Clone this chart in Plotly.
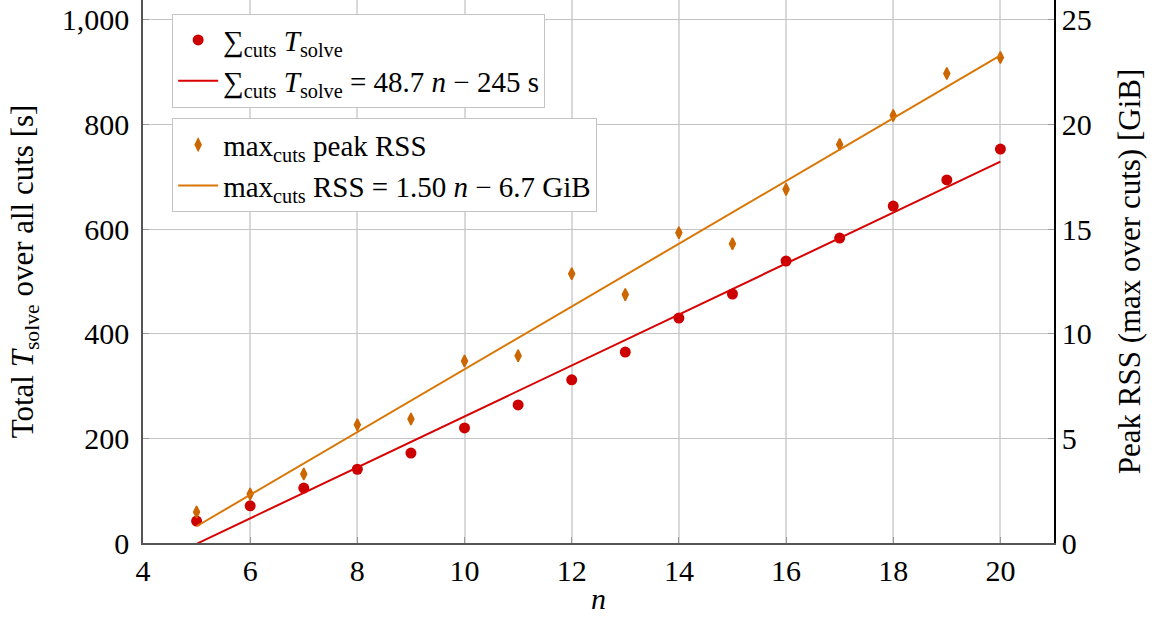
import plotly.graph_objects as go

n_vals = [5, 6, 7, 8, 9, 10, 11, 12, 13, 14, 15, 16, 17, 18, 19, 20]
t_solve = [42, 71, 105, 141, 172, 220, 264, 312, 365, 430, 476, 539, 583, 644, 694, 753]
rss_gib = [1.48, 2.34, 3.3, 5.65, 5.93, 8.7, 8.95, 12.87, 11.87, 14.83, 14.3, 16.9, 19.04, 20.43, 22.44, 23.2]

fit_n = [5, 20]
fit_t = [-1.5, 729]
fit_rss = [0.8, 23.3]

x_ticks = [4, 6, 8, 10, 12, 14, 16, 18, 20]
y_ticks = [0, 200, 400, 600, 800, 1000]
y_ticklabels = ["0", "200", "400", "600", "800", "1,000"]
y2_ticks = [0, 5, 10, 15, 20, 25]

RED = "#cc0000"
RED_LINE = "#d90000"
ORANGE = "#cc6600"
ORANGE_LINE = "#d97706"
FONT = "'Liberation Serif', 'DejaVu Serif', serif"
FS = 30

fig = go.Figure()

fig.add_trace(go.Scatter(
    x=n_vals, y=t_solve, mode="markers",
    marker=dict(symbol="circle", size=11, color=RED),
    name="∑<sub>cuts</sub> <i>T</i><sub>solve</sub>",
    legend="legend", yaxis="y"))
fig.add_trace(go.Scatter(
    x=fit_n, y=fit_t, mode="lines",
    line=dict(color=RED_LINE, width=2),
    name="∑<sub>cuts</sub> <i>T</i><sub>solve</sub> = 48.7 <i>n</i> − 245 s",
    legend="legend", yaxis="y"))
fig.add_trace(go.Scatter(
    x=n_vals, y=rss_gib, mode="markers",
    marker=dict(symbol="diamond-tall", size=8.5, color=ORANGE,
                line=dict(color=ORANGE, width=1.5)),
    name="max<sub>cuts</sub> peak RSS",
    legend="legend2", yaxis="y2"))
fig.add_trace(go.Scatter(
    x=fit_n, y=fit_rss, mode="lines",
    line=dict(color=ORANGE_LINE, width=2),
    name="max<sub>cuts</sub> RSS = 1.50 <i>n</i> − 6.7 GiB",
    legend="legend2", yaxis="y2"))

legend_common = dict(
    bgcolor="white", bordercolor="#c4c4c4", borderwidth=1,
    font=dict(family=FONT, size=29, color="black"),
    xanchor="left", yanchor="top", itemwidth=40, tracegroupgap=0,
)

fig.update_layout(
    width=1161, height=619,
    margin=dict(l=143, r=107, t=0, b=76, autoexpand=False),
    paper_bgcolor="white", plot_bgcolor="white",
    font=dict(family=FONT, size=FS, color="black"),
    showlegend=True,
    legend=dict(x=0.032, y=0.975, **legend_common),
    legend2=dict(x=0.032, y=0.782, **legend_common),
    xaxis=dict(
        range=[4, 21], tickvals=x_ticks, ticks="inside", ticklen=6, tickcolor="#999",
        showgrid=True, gridcolor="#d9d9d9", gridwidth=2,
        showline=True, linecolor="#555", linewidth=1.5, zeroline=False,
        title=dict(text="<i>n</i>", standoff=2, font=dict(family=FONT, size=30)),
        tickfont=dict(family=FONT, size=FS), automargin=False,
    ),
    yaxis=dict(
        range=[0, 1038], tickvals=y_ticks, ticktext=y_ticklabels,
        ticks="inside", ticklen=6, tickcolor="#999", ticklabelstandoff=6,
        showgrid=True, gridcolor="#c4c4c4", gridwidth=1.2,
        showline=True, linecolor="#555", linewidth=1.5, zeroline=False,
        title=dict(text="Total <i>T</i><sub>solve</sub> over all cuts [s]", standoff=19,
                   font=dict(family=FONT, size=31)),
        tickfont=dict(family=FONT, size=FS), automargin=False,
    ),
    yaxis2=dict(
        range=[0, 25.95], tickvals=y2_ticks, overlaying="y", side="right",
        ticks="inside", ticklen=6, tickcolor="#999",
        showgrid=False, showline=True, linecolor="black", linewidth=1.5, zeroline=False,
        title=dict(text="Peak RSS (max over cuts) [GiB]", standoff=28,
                   font=dict(family=FONT, size=31)),
        tickfont=dict(family=FONT, size=FS), automargin=False,
    ),
)

fig.write_html("out.html", config={"displayModeBar": False},
               post_script="document.body.style.margin='0';")
